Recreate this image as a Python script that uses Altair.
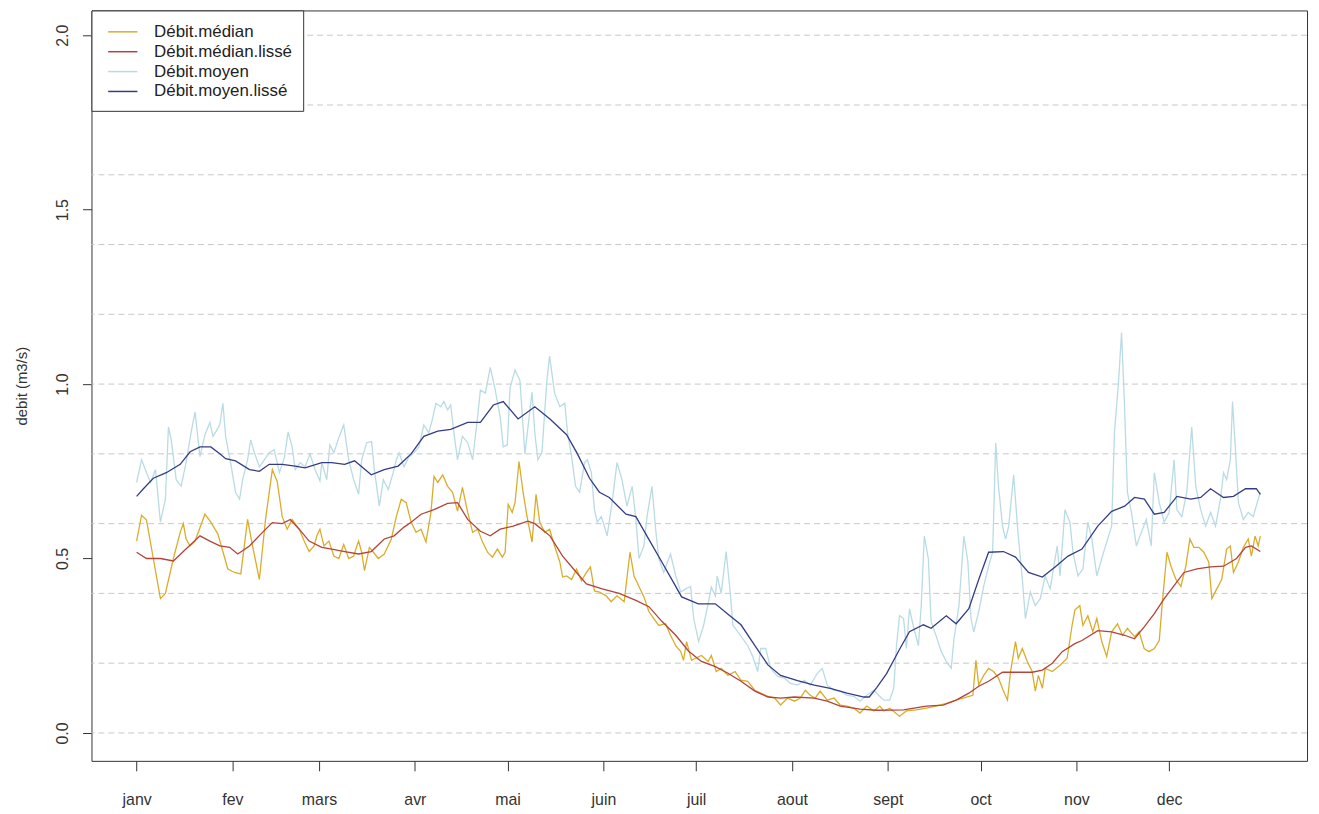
import altair as alt
import pandas as pd

# ---------------- data ----------------
series_names = ["Débit.médian", "Débit.médian.lissé", "Débit.moyen", "Débit.moyen.lissé"]
series_colors = ["#d9ad2c", "#b4433a", "#b9dbe4", "#343c86"]

month_days = [1, 32, 60, 91, 121, 152, 182, 213, 244, 274, 305, 335]
month_labels = ["janv", "fev", "mars", "avr", "mai", "juin", "juil", "aout", "sept", "oct", "nov", "dec"]

y_tick_values = [0.0, 0.5, 1.0, 1.5, 2.0]
grid_values = [0.0, 0.2, 0.4, 0.6, 0.8, 1.0, 1.2, 1.4, 1.6, 1.8, 2.0]

# (day, value) pairs
debit_median = [
    (1, 0.55), (2.6, 0.624), (4.2, 0.61), (6.4, 0.50), (8.7, 0.385), (10.3, 0.40), (12.9, 0.50),
    (15.1, 0.575), (16.1, 0.60), (17, 0.556), (18.3, 0.536), (19.9, 0.55), (23.1, 0.627), (25, 0.604),
    (27.3, 0.57), (28.9, 0.52), (30.5, 0.47), (32.7, 0.46), (34.7, 0.456), (36.9, 0.612), (38.5, 0.536),
    (40.7, 0.44), (42.7, 0.612), (44.9, 0.755), (46.5, 0.72), (48.1, 0.62), (49.7, 0.584), (51.3, 0.612),
    (53.6, 0.584), (55.2, 0.55), (56.8, 0.52), (58.4, 0.536), (59.3, 0.565), (60.3, 0.584), (61.6, 0.536),
    (63.2, 0.55), (64.8, 0.507), (66.4, 0.50), (68, 0.54), (69.6, 0.50), (71.2, 0.507), (72.8, 0.55),
    (73.8, 0.518), (74.7, 0.465), (76.3, 0.532), (77.6, 0.518), (79.2, 0.50), (81.1, 0.513), (83.4, 0.556),
    (85, 0.62), (86.6, 0.67), (88.2, 0.66), (89.8, 0.604), (91.4, 0.575), (93, 0.584), (94.6, 0.547),
    (96.2, 0.632), (97.2, 0.735), (98.4, 0.718), (100, 0.74), (101.6, 0.707), (103.2, 0.69), (104.8, 0.636),
    (106.4, 0.704), (108.1, 0.632), (109.7, 0.575), (111.3, 0.584), (112.9, 0.547), (114.5, 0.518),
    (116.1, 0.504), (117.7, 0.527), (119.3, 0.504), (120.2, 0.518), (121.2, 0.655), (122.5, 0.632),
    (123.4, 0.66), (124.7, 0.778), (126, 0.69), (127.3, 0.62), (128.9, 0.547), (130.2, 0.684), (131.4, 0.604),
    (133, 0.575), (134.6, 0.584), (136.2, 0.536), (137.9, 0.49), (138.8, 0.447), (140.1, 0.45), (141.7, 0.44),
    (143.3, 0.47), (144.9, 0.436), (146.5, 0.46), (147.8, 0.476), (149.1, 0.407), (150.7, 0.404),
    (152.9, 0.393), (154.5, 0.376), (156.4, 0.393), (158.7, 0.376), (160.6, 0.518), (161.9, 0.45),
    (163.5, 0.42), (165.1, 0.39), (166.7, 0.348), (168.3, 0.328), (169.9, 0.308), (172.1, 0.313),
    (173.7, 0.28), (175.4, 0.25), (177, 0.233), (177.9, 0.208), (178.9, 0.262), (180.5, 0.208),
    (181.8, 0.214), (183.7, 0.222), (185.9, 0.205), (186.9, 0.222), (188.5, 0.176), (190.1, 0.185),
    (192.3, 0.165), (194.6, 0.176), (196.5, 0.151), (198.7, 0.148), (201, 0.122), (202.9, 0.114),
    (205.2, 0.105), (207.4, 0.10), (209.3, 0.08), (211.6, 0.10), (213.8, 0.091), (215.7, 0.10),
    (217.3, 0.122), (218.9, 0.108), (220.5, 0.10), (222.1, 0.12), (224.4, 0.094), (226.6, 0.10),
    (228.6, 0.08), (230.8, 0.077), (233, 0.071), (235, 0.057), (237.2, 0.077), (239.5, 0.063),
    (241.4, 0.077), (242.7, 0.063), (244.6, 0.071), (247.8, 0.048), (250, 0.063), (253.2, 0.066),
    (256.4, 0.071), (259.6, 0.077), (262.9, 0.085), (266.1, 0.094), (268.3, 0.10), (271.5, 0.108),
    (272.5, 0.208), (273.4, 0.137), (275, 0.165), (276.6, 0.185), (278.2, 0.176), (279.8, 0.157),
    (281.4, 0.12), (282.7, 0.094), (283.7, 0.176), (285.3, 0.262), (286.2, 0.214), (287.5, 0.242),
    (289.1, 0.205), (290.7, 0.176), (291.7, 0.12), (292.7, 0.165), (294, 0.128), (294.9, 0.185),
    (297.2, 0.176), (299.7, 0.194), (302, 0.214), (303.6, 0.308), (304.5, 0.352), (306.1, 0.365),
    (307.1, 0.308), (308.7, 0.336), (310.3, 0.29), (311.6, 0.328), (313.2, 0.262), (314.8, 0.219),
    (316.4, 0.29), (318.3, 0.313), (319.9, 0.28), (321.5, 0.30), (323.8, 0.276), (325.3, 0.29),
    (326.9, 0.242), (328.5, 0.233), (330.2, 0.242), (331.8, 0.265), (332.7, 0.365), (334.3, 0.518),
    (335.6, 0.478), (337.2, 0.44), (338.8, 0.42), (340.4, 0.478), (341.7, 0.556), (343, 0.532),
    (344.6, 0.532), (346.2, 0.518), (347.8, 0.49), (348.8, 0.385), (350.4, 0.413), (352, 0.44),
    (353.6, 0.527), (354.8, 0.536), (355.8, 0.46), (357.4, 0.49), (359, 0.532), (360.6, 0.556),
    (361.6, 0.507), (362.8, 0.564), (363.8, 0.536), (364.5, 0.564),
]

debit_median_lisse = [
    (1, 0.518), (4.2, 0.50), (8.7, 0.50), (12.9, 0.493), (16.1, 0.52), (21.5, 0.565), (24.7, 0.55),
    (27.9, 0.536), (31.1, 0.532), (33.7, 0.513), (37.5, 0.536), (41.7, 0.575), (44.9, 0.603), (48.1, 0.60),
    (50.7, 0.612), (53.6, 0.584), (56.8, 0.55), (60.9, 0.532), (64.1, 0.527), (68.3, 0.52), (72.8, 0.513),
    (76.9, 0.52), (81.1, 0.556), (84.3, 0.565), (87.5, 0.59), (89.8, 0.604), (93, 0.627), (97.2, 0.64),
    (101.6, 0.658), (104.8, 0.66), (108.1, 0.612), (112.2, 0.578), (115.4, 0.565), (118.6, 0.584),
    (122.8, 0.593), (127.6, 0.607), (129.8, 0.60), (134.7, 0.565), (138.8, 0.507), (143.3, 0.46),
    (146.5, 0.427), (151.6, 0.413), (157.1, 0.40), (162.5, 0.38), (166.7, 0.362), (170.9, 0.32),
    (175.4, 0.28), (179.5, 0.235), (183.7, 0.205), (188.2, 0.19), (192.3, 0.171), (196.5, 0.148),
    (201, 0.12), (205.2, 0.103), (209.3, 0.10), (213.8, 0.103), (220.2, 0.10), (224.4, 0.091),
    (228.6, 0.077), (235, 0.068), (240.4, 0.065), (249.1, 0.066), (256.4, 0.077), (261.9, 0.08),
    (266.1, 0.094), (270.2, 0.114), (273.4, 0.134), (276.6, 0.148), (281.1, 0.174), (285.3, 0.174),
    (290.7, 0.174), (294, 0.18), (297.2, 0.20), (300.4, 0.233), (304.5, 0.256), (306.8, 0.265),
    (311.9, 0.293), (316.4, 0.29), (320.6, 0.28), (323.8, 0.27), (327, 0.305), (330.2, 0.342),
    (333.4, 0.385), (336.6, 0.422), (339.8, 0.46), (344, 0.47), (348.4, 0.476), (352.6, 0.478),
    (356.8, 0.50), (359.7, 0.532), (361.6, 0.536), (364.5, 0.52),
]

debit_moyen = [
    (1, 0.718), (2.6, 0.783), (4.2, 0.746), (5.5, 0.718), (7.1, 0.755), (8.7, 0.604), (10.3, 0.67),
    (11.3, 0.877), (12.2, 0.84), (13.8, 0.726), (15.4, 0.707), (17, 0.775), (18.6, 0.86), (19.9, 0.92),
    (21.5, 0.792), (23.1, 0.855), (24.7, 0.89), (25.7, 0.85), (26.6, 0.863), (27.9, 0.883), (28.9, 0.945),
    (29.8, 0.85), (31.4, 0.775), (33, 0.69), (34.3, 0.67), (35.3, 0.726), (36.9, 0.783), (37.9, 0.84),
    (39.1, 0.803), (40.7, 0.763), (42.3, 0.783), (43.9, 0.803), (45.5, 0.812), (47.2, 0.746), (48.8, 0.789),
    (50, 0.863), (51.3, 0.82), (52.3, 0.755), (53.9, 0.775), (55.5, 0.763), (57.1, 0.80), (58.7, 0.755),
    (60.3, 0.722), (60.9, 0.775), (62.5, 0.726), (63.5, 0.826), (64.8, 0.803), (66.4, 0.846), (68, 0.883),
    (69.6, 0.783), (71.2, 0.726), (72.8, 0.684), (73.8, 0.783), (75.4, 0.832), (77, 0.835), (77.9, 0.755),
    (79.5, 0.65), (80.8, 0.726), (82.4, 0.698), (84, 0.746), (85, 0.783), (85.9, 0.803), (87.5, 0.763),
    (89.1, 0.792), (90.7, 0.803), (92.3, 0.82), (93.9, 0.883), (95.5, 0.86), (96.8, 0.903), (97.8, 0.945),
    (99.4, 0.935), (100.4, 0.95), (101.6, 0.926), (102.6, 0.94), (103.6, 0.863), (104.8, 0.783),
    (106.4, 0.85), (108.1, 0.832), (109.7, 0.783), (111.3, 0.906), (112.2, 0.983), (113.8, 0.974),
    (115.4, 1.048), (117, 0.983), (118.6, 0.906), (119.6, 0.82), (120.9, 0.826), (121.8, 0.99),
    (123.4, 1.04), (125, 1.01), (126.6, 0.80), (127.6, 0.877), (128.9, 0.977), (129.8, 0.86),
    (130.8, 0.783), (132.1, 0.803), (133.7, 1.01), (134.6, 1.08), (136.2, 0.974), (137.9, 0.935),
    (139.5, 0.945), (140.4, 0.86), (141.7, 0.792), (143, 0.707), (144.3, 0.69), (145.9, 0.775),
    (146.8, 0.783), (148.1, 0.746), (149.1, 0.64), (150, 0.604), (151.3, 0.62), (152.3, 0.593),
    (153.2, 0.565), (154.8, 0.66), (156.4, 0.775), (158, 0.726), (159.6, 0.65), (161.3, 0.707),
    (162.5, 0.613), (163.5, 0.50), (165.1, 0.536), (166.1, 0.62), (167.7, 0.707), (168.9, 0.584),
    (169.9, 0.50), (171.5, 0.46), (173.7, 0.513), (175.4, 0.45), (177, 0.404), (178.6, 0.413),
    (180.2, 0.42), (181.2, 0.328), (182.8, 0.262), (184.4, 0.308), (186, 0.376), (186.9, 0.418),
    (188.2, 0.393), (188.8, 0.45), (190.1, 0.40), (191.7, 0.52), (193, 0.404), (193.9, 0.308),
    (195.5, 0.29), (197.1, 0.27), (198.7, 0.25), (200.3, 0.219), (201.9, 0.176), (202.9, 0.242),
    (204.5, 0.242), (206.1, 0.185), (208.4, 0.162), (210.6, 0.157), (212.5, 0.142), (214.8, 0.137),
    (217, 0.151), (218.9, 0.137), (221.2, 0.171), (222.8, 0.185), (224.4, 0.137), (226.6, 0.122),
    (228.6, 0.12), (230.8, 0.108), (233, 0.105), (235, 0.091), (237.2, 0.108), (239.5, 0.122),
    (241, 0.108), (242.7, 0.094), (244.6, 0.094), (245.9, 0.128), (246.8, 0.25), (247.8, 0.336),
    (249.1, 0.328), (250, 0.242), (251, 0.356), (252.2, 0.308), (253.9, 0.25), (254.8, 0.365),
    (255.8, 0.564), (257.1, 0.50), (258, 0.319), (259.6, 0.279), (261.3, 0.233), (262.9, 0.205),
    (264.5, 0.185), (265.4, 0.27), (267, 0.365), (268.6, 0.564), (269.9, 0.49), (270.9, 0.328),
    (271.8, 0.29), (273.4, 0.348), (275, 0.42), (276.6, 0.478), (277.9, 0.518), (278.9, 0.832),
    (279.8, 0.707), (281.1, 0.593), (282.1, 0.556), (283.1, 0.593), (284.7, 0.74), (286, 0.584),
    (287.5, 0.442), (288.5, 0.328), (290.1, 0.404), (291.7, 0.365), (293.3, 0.385), (294.9, 0.45),
    (296.5, 0.413), (298.8, 0.536), (299.7, 0.45), (301.3, 0.64), (302.9, 0.604), (303.9, 0.518),
    (305.5, 0.45), (307.1, 0.47), (308.7, 0.604), (310, 0.556), (311.6, 0.45), (313.2, 0.50),
    (314.8, 0.547), (316.4, 0.593), (317.3, 0.86), (318.6, 1.003), (319.6, 1.148), (320.5, 0.954),
    (321.5, 0.69), (322.8, 0.632), (324.4, 0.536), (326, 0.575), (327.6, 0.612), (329.2, 0.536),
    (330.2, 0.746), (331.8, 0.66), (333.4, 0.604), (335, 0.632), (336.6, 0.783), (337.5, 0.64),
    (339.1, 0.62), (340.7, 0.69), (342.3, 0.877), (343.6, 0.707), (345.2, 0.64), (346.8, 0.593),
    (348.4, 0.632), (350, 0.593), (351.6, 0.67), (352.6, 0.746), (353.6, 0.726), (354.8, 0.783),
    (355.5, 0.95), (356.4, 0.82), (357.4, 0.66), (359, 0.612), (360.6, 0.632), (362.2, 0.62),
    (363.8, 0.67), (364.5, 0.69),
]

debit_moyen_lisse = [
    (1, 0.678), (3.2, 0.70), (6.4, 0.73), (10.6, 0.746), (15.1, 0.77), (18.3, 0.806), (21.5, 0.82),
    (25, 0.82), (27.9, 0.80), (29.8, 0.786), (33, 0.78), (37.5, 0.755), (40.7, 0.75), (43.9, 0.77),
    (48.1, 0.77), (52.3, 0.765), (55.5, 0.76), (60.9, 0.775), (64.1, 0.775), (68.3, 0.77), (71.5, 0.78),
    (76.9, 0.74), (81.1, 0.755), (85.6, 0.765), (89.8, 0.80), (93.9, 0.85), (98.4, 0.865), (102.6, 0.87),
    (108.1, 0.89), (112.2, 0.89), (116.4, 0.94), (119.6, 0.95), (124.4, 0.90), (129.8, 0.935),
    (134.7, 0.90), (140.1, 0.855), (143.6, 0.80), (147.5, 0.73), (150.7, 0.69), (153.9, 0.675),
    (159.3, 0.627), (162.5, 0.62), (166.7, 0.555), (170.9, 0.49), (174.1, 0.44), (177.3, 0.39),
    (182.7, 0.37), (188.2, 0.37), (192.3, 0.34), (196.5, 0.31), (201, 0.25), (205.2, 0.195),
    (209.3, 0.165), (214.8, 0.15), (220.2, 0.137), (225.4, 0.128), (230.8, 0.114), (236.3, 0.103),
    (238, 0.103), (240.4, 0.13), (243.6, 0.17), (247.8, 0.24), (251, 0.29), (255.5, 0.31), (258, 0.30),
    (262.9, 0.336), (266.1, 0.313), (270.2, 0.356), (273.4, 0.44), (276.6, 0.518), (281.4, 0.52),
    (285.3, 0.504), (289.5, 0.46), (294, 0.447), (298.1, 0.476), (302.3, 0.507), (306.8, 0.527),
    (311.9, 0.593), (316.4, 0.635), (320.6, 0.65), (323.8, 0.675), (327, 0.67), (330.2, 0.627),
    (333.4, 0.632), (337.5, 0.678), (342, 0.67), (345.2, 0.675), (348.4, 0.70), (352.6, 0.675),
    (355.8, 0.678), (359.7, 0.70), (363.2, 0.70), (364.5, 0.684),
]

# ---------------- tables ----------------
all_series = [debit_median, debit_median_lisse, debit_moyen, debit_moyen_lisse]
rows = []
for name, pts in zip(series_names, all_series):
    for i, (d, v) in enumerate(pts):
        rows.append({"serie": name, "jour": d, "debit": v, "k": i})
df = pd.DataFrame(rows)
grid_df = pd.DataFrame({"debit": grid_values})

FONT = "Liberation Sans"

label_expr = "[" + ",".join("'%s'" % m for m in month_labels) + "][indexof([" + \
    ",".join(str(d) for d in month_days) + "], datum.value)]"

x_enc = alt.X(
    "jour:Q",
    scale=alt.Scale(domain=[-13.6, 379.6], nice=False, zero=False),
    axis=alt.Axis(values=month_days, labelExpr=label_expr, title=None, grid=False, domain=False,
                  tickSize=10, tickColor="#333", labelFontSize=16, labelFont=FONT,
                  labelColor="#333", labelPadding=21, labelFlush=False),
)
y_scale = alt.Scale(domain=[-0.08, 2.071], nice=False, zero=False)
y_axis = alt.Axis(values=y_tick_values, format=".1f", labelAngle=270, labelAlign="center",
                  labelBaseline="bottom", labelPadding=12, tickSize=9, tickColor="#333",
                  domain=False, grid=False, labelFontSize=16, labelFont=FONT, labelColor="#333",
                  title="debit (m3/s)", titleFontSize=15, titleFont=FONT, titleFontWeight="normal",
                  titleColor="#333", titlePadding=25, labelFlush=False)
y_enc = alt.Y("debit:Q", scale=y_scale, axis=y_axis)
color_enc = alt.Color(
    "serie:N",
    scale=alt.Scale(domain=series_names, range=series_colors),
    legend=alt.Legend(title=None, orient="none", legendX=0, legendY=0,
                      symbolType="M-1.55,0H1.55", symbolSize=361, symbolStrokeWidth=1.5,
                      labelFontSize=17, labelFont=FONT, labelColor="#222", strokeColor="#333",
                      fillColor="white", padding=11, rowPadding=1, labelOffset=21,
                      labelLimit=400, symbolOffset=10),
)

grid = alt.Chart(grid_df).mark_rule(color="#c8c8c8", strokeDash=[6, 4], strokeWidth=1).encode(
    y=y_enc
)

layers = [grid]
for name in series_names:
    layers.append(
        alt.Chart(df).transform_filter(alt.datum.serie == name)
        .mark_line(strokeWidth=1.3)
        .encode(x=x_enc, y=y_enc, color=color_enc, order="k:Q")
    )

chart = alt.layer(*layers).properties(
    width=1223, height=755,
    autosize=alt.AutoSizeParams(type="none"),
    padding={"left": 84, "top": 0, "right": 4, "bottom": 50},
).configure(background="white").configure_view(stroke="#333", strokeWidth=1)

chart.save("out.html", embed_options={"renderer": "svg", "actions": False})
